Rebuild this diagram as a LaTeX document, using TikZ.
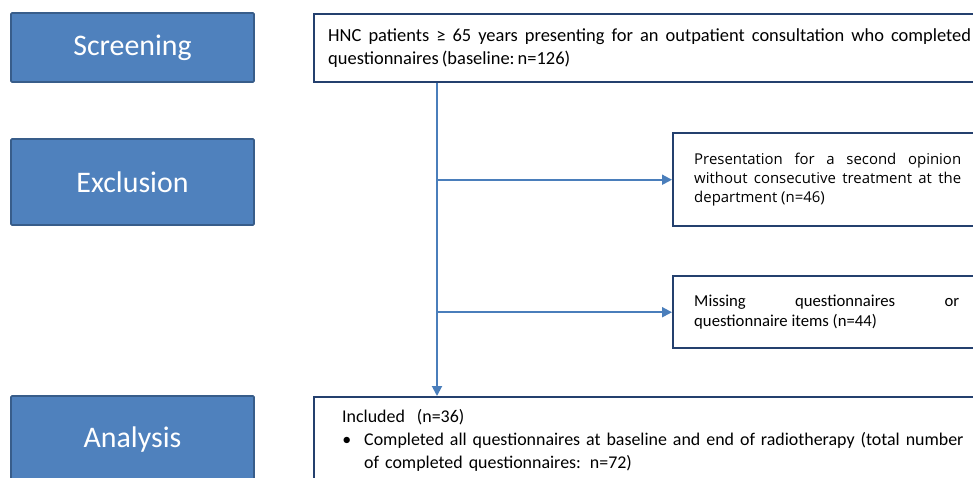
\documentclass[tikz,border=0pt]{standalone}
\usepackage{fontspec}
\setmainfont{Carlito}
\newfontfamily\opsans{Open Sans}
\usepackage{xcolor}
\usepackage{tikz}
\usetikzlibrary{arrows.meta,positioning}

\definecolor{phasefill}{HTML}{4F81BD}
\definecolor{phasedraw}{HTML}{385D8A}
\definecolor{boxdraw}{HTML}{24406E}
\definecolor{flowblue}{HTML}{4A7EBB}

\hyphenpenalty=10000
\exhyphenpenalty=10000

\begin{document}
\begin{tikzpicture}[
  x=0.02cm, y=-0.02cm,
  phase/.style={
    draw=phasedraw,
    fill=phasefill,
    line width=1pt,
    rounded corners=0.6pt,
    minimum width=4.86cm,
    text=white,
    font=\fontsize{17}{20}\selectfont
  },
  info/.style={
    draw=boxdraw,
    fill=white,
    line width=1.4pt,
    anchor=north west,
    align=justify,
    inner ysep=2pt,
    font=\fontsize{10.5}{13}\selectfont
  },
  flow/.style={
    -{Triangle[length=2mm,width=2mm]},
    draw=flowblue,
    line width=1.1pt
  }
]
\clip (0,0) rectangle (973,477);

% Phase labels on the left
\node[phase, minimum height=1.38cm] (screening) at (132.5,47.5) {Screening};
\node[phase, minimum height=1.72cm] (exclusion) at (132.5,182) {Exclusion};
\node[phase, minimum height=1.76cm] (analysis) at (132.5,440) {Analysis};

% Screened population
\node[info, text width=12.86cm, inner xsep=0.28cm, minimum height=1.36cm] (baseline) at (313,13) {
  HNC patients ≥ 65 years presenting for an outpatient consultation who completed questionnaires\,(baseline:\,n=126)
};

% Exclusions
\node[info, text width=5.34cm, inner xsep=0.42cm, minimum height=1.86cm,
  font=\opsans\fontsize{8.5}{11}\selectfont] (opinion) at (672,132) {
  Presentation for a second opinion without consecutive treatment at the department (n=46)
};
\node[info, text width=5.3cm, inner xsep=0.42cm, minimum height=1.44cm,
  font=\fontsize{9.5}{11.5}\selectfont] (missing) at (672,275) {
  Missing questionnaires or questionnaire items (n=44)
};

% Analysed sample
\node[info, align=left, text width=12.44cm, inner xsep=0.56cm, minimum height=1.72cm,
  font=\fontsize{10.2}{13}\selectfont] (included) at (313,396) {
  \noindent Included\ \ (n=36)\par
  \noindent\leftskip=0.44cm\llap{\textbullet\hspace{0.26cm}}Completed all questionnaires at baseline and end of radiotherapy (total number of completed questionnaires: n=72)\par
};

% Flow
\coordinate (trunk) at (437,0);
\draw[flow] (baseline.south -| trunk) -- (included.north -| trunk);
\draw[flow] (opinion.west -| trunk) -- (opinion.west);
\draw[flow] (missing.west -| trunk) -- (missing.west);

\end{tikzpicture}
\end{document}
